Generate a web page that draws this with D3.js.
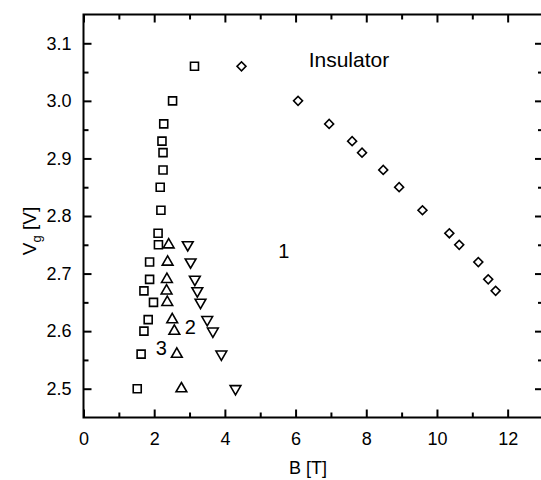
<!DOCTYPE html>
<html>
<head>
<meta charset="utf-8">
<script src="https://cdn.jsdelivr.net/npm/d3@7"></script>
<style>
  body { margin: 0; background: #fff; }
  svg text { font-family: "Liberation Sans", Arial, Helvetica, sans-serif; fill: #000; }
</style>
</head>
<body>
<svg id="svg" width="541" height="480"></svg>
<script>
// transition curves, B in tesla vs gate voltage
var squareB = [3.14, 2.52, 2.27, 2.22, 2.25, 2.25, 2.17, 2.19, 2.11, 2.12, 1.87, 1.87, 1.71, 1.98, 1.83, 1.71, 1.63, 1.52];
var squareV = [3.06, 3.00, 2.96, 2.93, 2.91, 2.88, 2.85, 2.81, 2.77, 2.75, 2.72, 2.69, 2.67, 2.65, 2.62, 2.60, 2.56, 2.50];
var upB = [2.41, 2.38, 2.36, 2.35, 2.37, 2.51, 2.57, 2.64, 2.77];
var upV = [2.75, 2.72, 2.69, 2.67, 2.65, 2.62, 2.60, 2.56, 2.50];
var downB = [2.95, 3.03, 3.15, 3.22, 3.31, 3.50, 3.66, 3.90, 4.30];
var downV = [2.75, 2.72, 2.69, 2.67, 2.65, 2.62, 2.60, 2.56, 2.50];
var diamondB = [4.47, 6.07, 6.95, 7.60, 7.88, 8.48, 8.93, 9.59, 10.35, 10.63, 11.17, 11.45, 11.66];
var diamondV = [3.06, 3.00, 2.96, 2.93, 2.91, 2.88, 2.85, 2.81, 2.77, 2.75, 2.72, 2.69, 2.67];

var xTicks = [0, 2, 4, 6, 8, 10, 12];
var xMinor = [1, 3, 5, 7, 9, 11, 13];
var yTicks = [2.5, 2.6, 2.7, 2.8, 2.9, 3.0, 3.1];
var yMinor = [2.55, 2.65, 2.75, 2.85, 2.95, 3.05];

// annotations: text, B, V (baseline)
var labels = [
  {text: "Insulator", b: 7.51, v: 3.058, size: 21},
  {text: "1", b: 5.67, v: 2.727, size: 20},
  {text: "2", b: 3.02, v: 2.595, size: 20},
  {text: "3", b: 2.20, v: 2.558, size: 20}
];

var svg = d3.select("#svg");

var x = d3.scaleLinear().domain([0, 13]).range([83.5, 543]);
var y = d3.scaleLinear().domain([2.45, 3.15]).range([417.5, 14.5]);

var plot = svg.append("g").classed("core", true);

// frame
plot.append("rect")
  .attr("x", x(0)).attr("y", y(3.15))
  .attr("width", x(13) - x(0)).attr("height", y(2.45) - y(3.15))
  .attr("fill", "none").attr("stroke", "#000").attr("stroke-width", 2);

function styleAxis(g) {
  g.select(".domain").remove();
  g.selectAll(".tick line").attr("stroke", "#000").attr("stroke-width", 2);
  g.selectAll(".tick text").attr("font-size", 18).attr("fill", "#000");
}

// bottom
plot.append("g").attr("transform", `translate(0,${y(2.45)})`)
  .call(d3.axisBottom(x).tickValues(xTicks).tickSize(-8).tickPadding(15).tickFormat(d3.format("d")))
  .call(styleAxis);
plot.append("g").attr("transform", `translate(0,${y(2.45)})`)
  .call(d3.axisBottom(x).tickValues(xMinor).tickSize(-5).tickFormat(""))
  .call(styleAxis);
// top
plot.append("g").attr("transform", `translate(0,${y(3.15)})`)
  .call(d3.axisTop(x).tickValues(xTicks).tickSize(-8).tickFormat(""))
  .call(styleAxis);
plot.append("g").attr("transform", `translate(0,${y(3.15)})`)
  .call(d3.axisTop(x).tickValues(xMinor).tickSize(-5).tickFormat(""))
  .call(styleAxis);
// left
plot.append("g").attr("transform", `translate(${x(0)},0)`)
  .call(d3.axisLeft(y).tickValues(yTicks).tickSize(-8).tickPadding(12).tickFormat(d3.format(".1f")))
  .call(styleAxis);
plot.append("g").attr("transform", `translate(${x(0)},0)`)
  .call(d3.axisLeft(y).tickValues(yMinor).tickSize(-5).tickFormat(""))
  .call(styleAxis);
// right
plot.append("g").attr("transform", `translate(${x(13)},0)`)
  .call(d3.axisRight(y).tickValues(yTicks).tickSize(-8).tickFormat(""))
  .call(styleAxis);
plot.append("g").attr("transform", `translate(${x(13)},0)`)
  .call(d3.axisRight(y).tickValues(yMinor).tickSize(-5).tickFormat(""))
  .call(styleAxis);

// axis titles
svg.append("text")
  .attr("x", 308).attr("y", 474)
  .attr("text-anchor", "middle").attr("font-size", 18)
  .text("B [T]");

var yt = svg.append("text")
  .attr("transform", "translate(36,231) rotate(-90)")
  .attr("text-anchor", "middle").attr("font-size", 19);
yt.append("tspan").text("V");
yt.append("tspan").attr("font-size", 13).attr("dy", 5).text("g");
yt.append("tspan").attr("dy", -5).text(" [V]");

// markers
function drawSeries(bs, vs, type, size, rot) {
  var sym = d3.symbol().type(type).size(size);
  plot.append("g").selectAll("path")
    .data(bs.map((b, i) => [b, vs[i]]))
    .join("path")
    .attr("d", sym)
    .attr("transform", d => `translate(${x(d[0])},${y(d[1])}) rotate(${rot})`)
    .attr("fill", "#fff")
    .attr("stroke", "#000")
    .attr("stroke-width", 1.6);
}

drawSeries(squareB, squareV, d3.symbolSquare, 64, 0);
drawSeries(upB, upV, d3.symbolTriangle, 50, 0);
drawSeries(downB, downV, d3.symbolTriangle, 50, 180);
drawSeries(diamondB, diamondV, d3.symbolSquare, 40, 45);

// annotations
svg.append("g").selectAll("text")
  .data(labels)
  .join("text")
  .attr("x", d => x(d.b)).attr("y", d => y(d.v))
  .attr("text-anchor", "middle")
  .attr("font-size", d => d.size)
  .text(d => d.text);
</script>
</body>
</html>
